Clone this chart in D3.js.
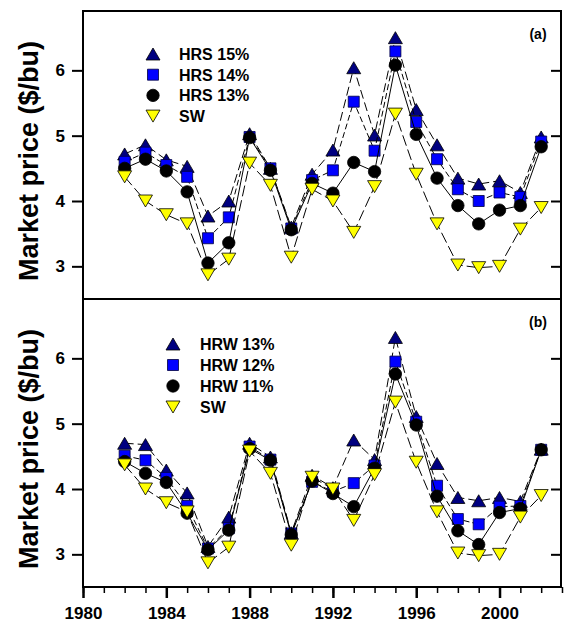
<!DOCTYPE html>
<html>
<head>
<meta charset="utf-8">
<script src="https://cdn.jsdelivr.net/npm/d3@7"></script>
<style>
  html, body { margin: 0; padding: 0; background: #fff; }
  svg { display: block; }
  text { font-family: "Liberation Sans", Arial, Helvetica, sans-serif; font-weight: bold; fill: #000; }
</style>
</head>
<body>
<svg id="chart" width="564" height="625"></svg>
<script>
// Crop years
const years = [1982, 1983, 1984, 1985, 1986, 1987, 1988, 1989, 1990, 1991, 1992,
               1993, 1994, 1995, 1996, 1997, 1998, 1999, 2000, 2001, 2002];

// Panel (a): hard red spring wheat by protein level, and soft white wheat
const hrs15 = [4.72, 4.86, 4.63, 4.53, 3.77, 4.00, 5.03, 4.50, 3.60, 4.41, 4.78,
               6.04, 5.01, 6.50, 5.40, 4.86, 4.35, 4.26, 4.31, 4.13, 4.98];
const hrs14 = [4.60, 4.74, 4.55, 4.37, 3.43, 3.75, 4.98, 4.50, 3.58, 4.32, 4.47,
               5.52, 4.77, 6.29, 5.21, 4.64, 4.18, 4.00, 4.13, 4.06, 4.91];
const hrs13 = [4.50, 4.64, 4.46, 4.14, 3.05, 3.36, 4.97, 4.47, 3.56, 4.27, 4.12,
               4.59, 4.45, 6.08, 5.02, 4.35, 3.93, 3.65, 3.86, 3.93, 4.83];
const sw    = [4.37, 4.00, 3.79, 3.65, 2.87, 3.11, 4.58, 4.24, 3.14, 4.18, 4.00,
               3.52, 4.22, 5.33, 4.41, 3.65, 3.02, 2.98, 3.00, 3.57, 3.90];

// Panel (b): hard red winter wheat by protein level, and soft white wheat
const hrw13 = [4.70, 4.68, 4.29, 3.94, 3.12, 3.57, 4.70, 4.49, 3.33, 4.21, 4.02,
               4.75, 4.45, 6.32, 5.11, 4.39, 3.87, 3.82, 3.87, 3.81, 4.61];
const hrw12 = [4.51, 4.44, 4.17, 3.74, 3.09, 3.40, 4.65, 4.45, 3.32, 4.11, 3.96,
               4.09, 4.36, 5.95, 5.03, 4.05, 3.54, 3.46, 3.73, 3.74, 4.60];
const hrw11 = [4.42, 4.24, 4.10, 3.63, 3.07, 3.37, 4.62, 4.44, 3.30, 4.12, 3.93,
               3.73, 4.32, 5.76, 4.98, 3.89, 3.36, 3.15, 3.64, 3.70, 4.60];

// Axis ticks
const yTicks = [3, 4, 5, 6];
const xMajorTicks = [1980, 1984, 1988, 1992, 1996, 2000];
const xMinorTicks = [1980, 1981, 1982, 1983, 1984, 1985, 1986, 1987, 1988, 1989, 1990, 1991,
                     1992, 1993, 1994, 1995, 1996, 1997, 1998, 1999, 2000, 2001, 2002, 2003];

const panelNames = ["(a)", "(b)"];
const seriesA = [
  { name: "HRS 15%", values: hrs15, shape: "up",     fill: "#000080", stroke: "#000000", dash: "9,4" },
  { name: "HRS 14%", values: hrs14, shape: "square", fill: "#0000ff", stroke: "#000040", dash: "6,3" },
  { name: "HRS 13%", values: hrs13, shape: "circle", fill: "#000000", stroke: "#000000", dash: null },
  { name: "SW",      values: sw,    shape: "down",   fill: "#ffff00", stroke: "#000000", dash: "11,4" }
];
const seriesB = [
  { name: "HRW 13%", values: hrw13, shape: "up",     fill: "#000080", stroke: "#000000", dash: "9,4" },
  { name: "HRW 12%", values: hrw12, shape: "square", fill: "#0000ff", stroke: "#000040", dash: "6,3" },
  { name: "HRW 11%", values: hrw11, shape: "circle", fill: "#000000", stroke: "#000000", dash: null },
  { name: "SW",      values: sw,    shape: "down",   fill: "#ffff00", stroke: "#000000", dash: "11,4" }
];

const svg = d3.select("#chart");

const left = 83, right = 561;
const x = d3.scaleLinear().domain([1980, 2003]).range([83, 562]);

const panels = [
  { top: 11,  bottom: 299, series: seriesA, label: panelNames[0],
    legend: { x: 153, y: 54, textX: 179, step: 20.7 } },
  { top: 299, bottom: 587, series: seriesB, label: panelNames[1],
    legend: { x: 173, y: 344, textX: 200, step: 21 } }
];

function markerPath(shape) {
  if (shape === "up")     return "M0,-6L7,6L-7,6Z";
  if (shape === "down")   return "M-7,-6L7,-6L0,6Z";
  if (shape === "square") return "M-5.5,-5.5H5.5V5.5H-5.5Z";
  return d3.arc()({ innerRadius: 0, outerRadius: 6.2, startAngle: 0, endAngle: 2 * Math.PI });
}

panels.forEach((p, pi) => {
  const y = d3.scaleLinear().domain([2.5, 2.5 + 288 / 65.33]).range([p.bottom, p.top]);
  const g = svg.append("g");

  // Left value axis with outward ticks
  const yl = g.append("g").attr("transform", `translate(${left},0)`)
    .call(d3.axisLeft(y).tickValues(yTicks).tickSize(11).tickPadding(7).tickFormat(d3.format("d")));
  yl.select(".domain").remove();
  yl.selectAll("line").attr("stroke", "#000").attr("stroke-width", 2);
  yl.selectAll("text").style("font-size", "17px").style("font-family", null);

  // Right inward ticks
  const yr = g.append("g").attr("transform", `translate(${right},0)`)
    .call(d3.axisLeft(y).tickValues(yTicks).tickSize(10).tickFormat(""));
  yr.select(".domain").remove();
  yr.selectAll("line").attr("stroke", "#000").attr("stroke-width", 2);

  // Series: line first, then its markers
  const line = d3.line().x((d, i) => x(years[i])).y(d => y(d));
  p.series.forEach(s => {
    g.append("path")
      .attr("d", line(s.values))
      .attr("fill", "none")
      .attr("stroke", "#000")
      .attr("stroke-width", 1)
      .attr("stroke-dasharray", s.dash);
    g.selectAll(null).data(s.values).enter().append("path")
      .attr("d", markerPath(s.shape))
      .attr("transform", (d, i) => `translate(${x(years[i])},${y(d)})`)
      .attr("fill", s.fill)
      .attr("stroke", s.stroke)
      .attr("stroke-width", 0.8);
  });

  // Legend
  p.series.forEach((s, i) => {
    const ly = p.legend.y + i * p.legend.step;
    g.append("path")
      .attr("d", markerPath(s.shape))
      .attr("transform", `translate(${p.legend.x},${ly})`)
      .attr("fill", s.fill)
      .attr("stroke", s.stroke)
      .attr("stroke-width", 0.8);
    g.append("text")
      .attr("x", p.legend.textX)
      .attr("y", ly + 6)
      .style("font-size", "16px")
      .text(s.name);
  });

  // Panel tag
  g.append("text")
    .attr("x", 538).attr("y", p.top + 28)
    .attr("text-anchor", "middle")
    .style("font-size", "14px")
    .text(p.label);

  // Frame
  g.append("rect")
    .attr("x", left).attr("y", p.top)
    .attr("width", right - left).attr("height", p.bottom - p.top)
    .attr("fill", "none").attr("stroke", "#000").attr("stroke-width", 2);

  // Value axis title
  svg.append("text")
    .attr("transform", `translate(38,${(p.top + p.bottom) / 2 + 6}) rotate(-90)`)
    .attr("text-anchor", "middle")
    .style("font-size", "27px")
    .text("Market price ($/bu)");
});

// Year axis along the bottom panel
const xMinor = svg.append("g").attr("transform", "translate(0,587)")
  .call(d3.axisBottom(x).tickValues(xMinorTicks).tickSize(6).tickFormat(""));
xMinor.select(".domain").remove();
xMinor.selectAll("line").attr("stroke", "#000").attr("stroke-width", 1.5);

const xMajor = svg.append("g").attr("transform", "translate(0,587)")
  .call(d3.axisBottom(x).tickValues(xMajorTicks).tickSize(11).tickPadding(9).tickFormat(d3.format("d")));
xMajor.select(".domain").remove();
xMajor.selectAll("line").attr("stroke", "#000").attr("stroke-width", 2.5);
xMajor.selectAll("text").style("font-size", "17px").style("font-family", null);
</script>
</body>
</html>
